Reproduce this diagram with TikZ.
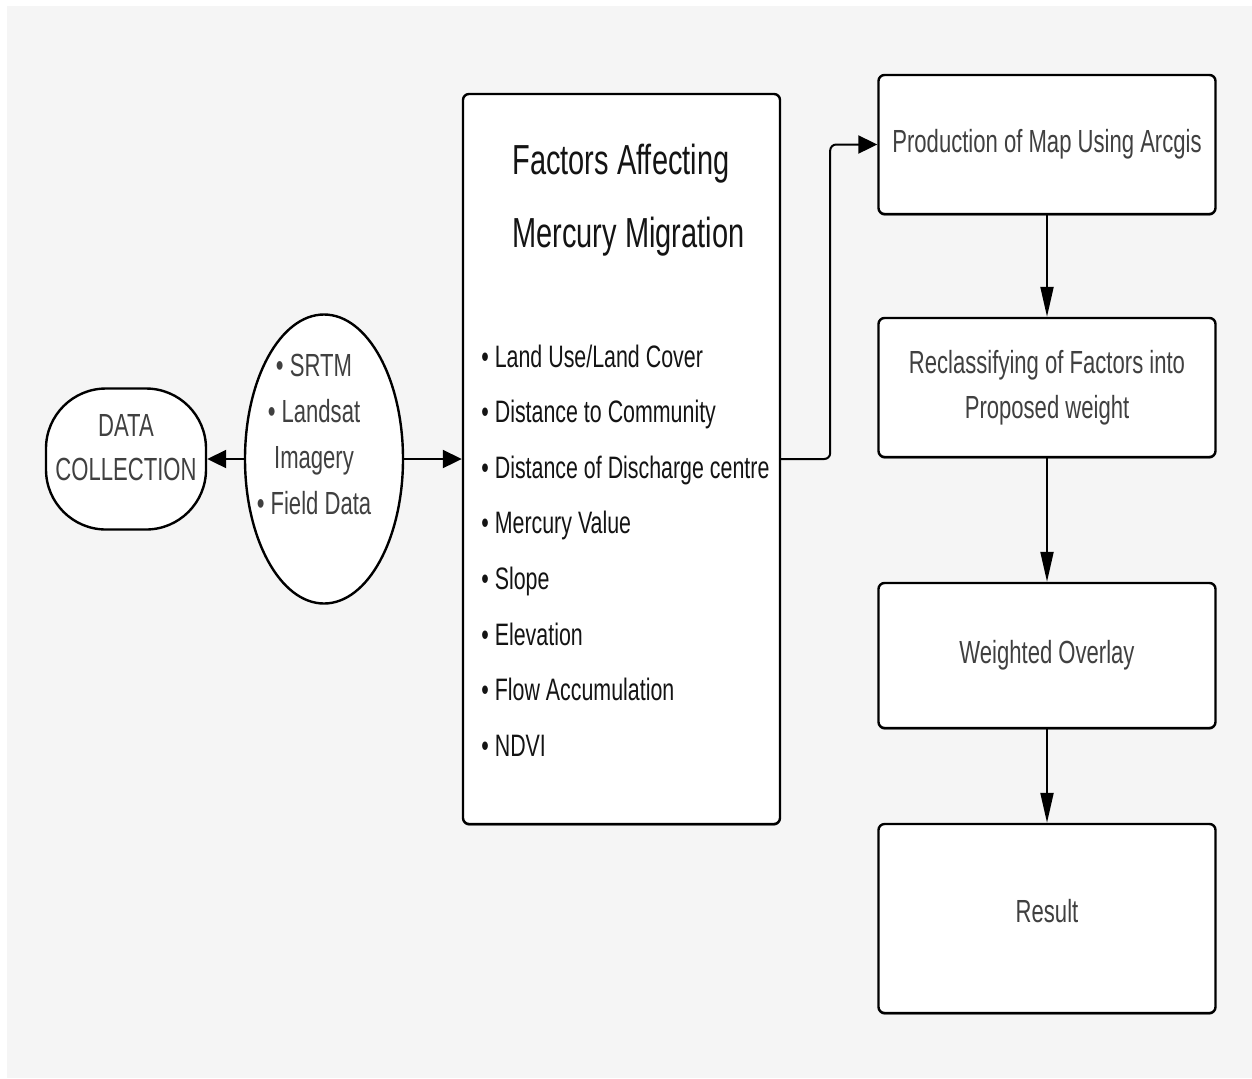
\documentclass[tikz,border=0pt]{standalone}
\usepackage{fontspec}
\setmainfont{Liberation Sans}[FakeStretch=0.69]
\usepackage{tikz}
\usetikzlibrary{shapes.geometric, arrows.meta, positioning, shadows}
\definecolor{bggray}{RGB}{245, 245, 245}
\definecolor{txtgray}{RGB}{64, 64, 64}
\definecolor{txtdark}{RGB}{20, 20, 20}

\tikzset{
    stepbox/.style={draw, line width=1.2pt, fill=white, rounded corners=3pt,
        minimum width=168.5pt, minimum height=69.5pt, align=center,
        text=txtgray, font=\fontsize{16}{22.5}\selectfont,
        drop shadow={shadow xshift=0pt, shadow yshift=-0.8pt, fill=black, opacity=0.7}},
    harr/.style={-{Triangle[length=9.5pt, width=9pt]}, line width=1pt},
    varr/.style={-{Triangle[length=15pt, width=6.5pt]}, line width=1pt},
}

\begin{document}
\begin{tikzpicture}[x=0.5pt, y=-0.5pt]
    \useasboundingbox (0,0) rectangle (1252,1078);
    \fill[bggray] (7,6) rectangle (1252,1078);

    % left side: data collection and sources
    \node[draw, line width=1.2pt, fill=white, rounded corners=30pt,
        minimum width=80pt, minimum height=70.5pt, align=center, text=txtgray,
        text depth=11.5pt, font=\fontsize{16}{22}\selectfont] (datacol) at (126,459) {DATA\\COLLECTION};
    \node[ellipse, draw, line width=1.2pt, fill=white, minimum width=79pt,
        minimum height=144.5pt] (sources) at (324,459) {};
    \node[align=center, text=txtgray, font=\fontsize{16}{23}\selectfont] (srclist) at (314,434)
        {• SRTM\\• Landsat\\Imagery\\• Field Data};

    % factors box
    \node[draw, line width=1.2pt, fill=white, rounded corners=3pt, minimum width=158.5pt,
        minimum height=365pt,
        drop shadow={shadow xshift=0pt, shadow yshift=-0.8pt, fill=black, opacity=0.7}] (factors) at (621.5,459) {};
    \node[anchor=west, align=left, text=txtdark, inner sep=0pt,
        font=\fontsize{21}{36.5}\selectfont] (factitle) at (512,200)
        {Factors Affecting\\Mercury Migration};
    \foreach \item [count=\i from 0] in {Land Use/Land Cover, Distance to Community,
        Distance of Discharge centre, Mercury Value, Slope, Elevation,
        Flow Accumulation, NDVI}
        \node[anchor=base west, inner sep=0pt, text=txtdark, font=\fontsize{15.5}{18}\selectfont]
            (fac\i) at (481,367+55.6*\i) {• \item};

    % right column
    \node[stepbox] (prodmap) at (1047,144.5) {Production of Map Using Arcgis};
    \node[stepbox, below=50.8pt of prodmap] (reclass) {Reclassifying of Factors into\\Proposed weight};
    \node[stepbox, below=61.8pt of reclass, minimum height=72.5pt] (woverlay) {Weighted Overlay};
    \node[stepbox, below=46.8pt of woverlay, minimum height=94.5pt, text depth=8pt] (result) {Result};

    % connectors
    \draw[harr] (sources.west) -- (datacol.east);
    \draw[harr] (sources.east) -- (factors.west);
    \draw[harr, rounded corners=3pt] (factors.east) -- ++(24.5pt,0) |- (prodmap.west);
    \draw[varr] (prodmap) -- (reclass);
    \draw[varr] (reclass) -- (woverlay);
    \draw[varr] (woverlay) -- (result);
\end{tikzpicture}
\end{document}
